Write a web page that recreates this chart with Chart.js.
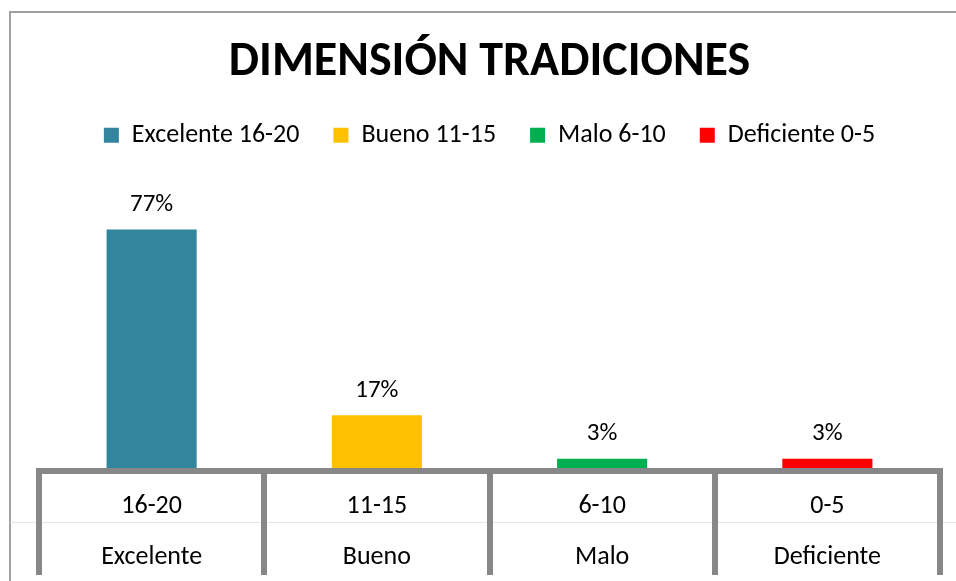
<!DOCTYPE html>
<html><head><meta charset="utf-8">
<script src="https://cdn.jsdelivr.net/npm/chart.js@4"></script>
<style>
html,body{margin:0;padding:0;background:#fff;overflow:hidden;width:956px;height:581px;}
#frame{position:absolute;left:9px;top:11px;width:1200px;height:800px;border:2px solid #a0a0a0;box-sizing:border-box;}
#wrap{position:absolute;left:0;top:0;width:956px;height:581px;}
</style></head><body>
<div id="frame"></div>
<div id="wrap"><canvas id="c" width="956" height="581"></canvas></div>
<script>
const chartTitle = 'DIMENSIÓN TRADICIONES';
const rangeLabels = ['16-20', '11-15', '6-10', '0-5'];
const levelLabels = ['Excelente', 'Bueno', 'Malo', 'Deficiente'];
const legendLabels = ['Excelente 16-20', 'Bueno 11-15', 'Malo 6-10', 'Deficiente 0-5'];
const percentValues = [77, 17, 3, 3];
const barColors = ['#31859C', '#FFC000', '#00B050', '#FF0000'];

const FONT = 'Carlito, Lato, "Open Sans", sans-serif';
const categories = rangeLabels.map((r, i) => [r, levelLabels[i]]);

const decor = {
  id: 'decor',
  afterDatasetsDraw(chart) {
    const {ctx, chartArea: a, scales: {x}} = chart;
    const n = categories.length;
    const step = x.width / n;
    ctx.save();
    ctx.fillStyle = '#e6e6e6';
    ctx.fillRect(10, a.bottom + 54, chart.width, 1);
    ctx.fillStyle = '#878787';
    ctx.fillRect(x.left - 3, a.bottom, x.width + 6, 6);
    for (let i = 0; i <= n; i++) {
      const px = x.left + i * step;
      ctx.fillRect(Math.round(px - 3), a.bottom, 6, chart.height - a.bottom - 6);
    }
    const meta = chart.getDatasetMeta(0);
    ctx.fillStyle = '#000';
    ctx.font = '25px ' + FONT;
    ctx.textAlign = 'center';
    ctx.textBaseline = 'middle';
    meta.data.forEach((bar, i) => {
      ctx.fillText(percentValues[i] + '%', bar.x, bar.y - 25);
    });
    ctx.restore();
  }
};

new Chart(document.getElementById('c'), {
  type: 'bar',
  data: {
    labels: categories,
    datasets: [{
      data: percentValues,
      backgroundColor: barColors,
      borderWidth: 0,
      barPercentage: 0.4,
      categoryPercentage: 1
    }]
  },
  options: {
    responsive: false,
    animation: false,
    layout: {padding: {left: 39, right: 16, top: 0, bottom: 0}},
    plugins: {
      title: {
        display: true, text: chartTitle, color: '#000',
        font: {family: FONT, size: 48, weight: 'bold', lineHeight: 0.9},
        padding: {top: 41, bottom: 4}
      },
      legend: {
        display: true, position: 'top', onClick: null,
        labels: {
          boxWidth: 15, boxHeight: 15, padding: 34, color: '#000',
          font: {family: FONT, size: 26},
          generateLabels() {
            return legendLabels.map((t, i) => ({
              text: t, fillStyle: barColors[i], strokeStyle: barColors[i],
              lineWidth: 0, hidden: false, index: i, datasetIndex: 0, fontColor: '#000'
            }));
          }
        }
      },
      tooltip: {enabled: false}
    },
    scales: {
      x: {
        grid: {display: false, drawTicks: false},
        border: {display: false},
        ticks: {color: '#000', font: {family: FONT, size: 26, lineHeight: 1.96}, padding: 13.5, maxRotation: 0, autoSkip: false},
        afterFit(s) { s.height = 113; }
      },
      y: {display: false, min: 0, max: 100}
    }
  },
  plugins: [decor]
});
</script>
</body></html>
